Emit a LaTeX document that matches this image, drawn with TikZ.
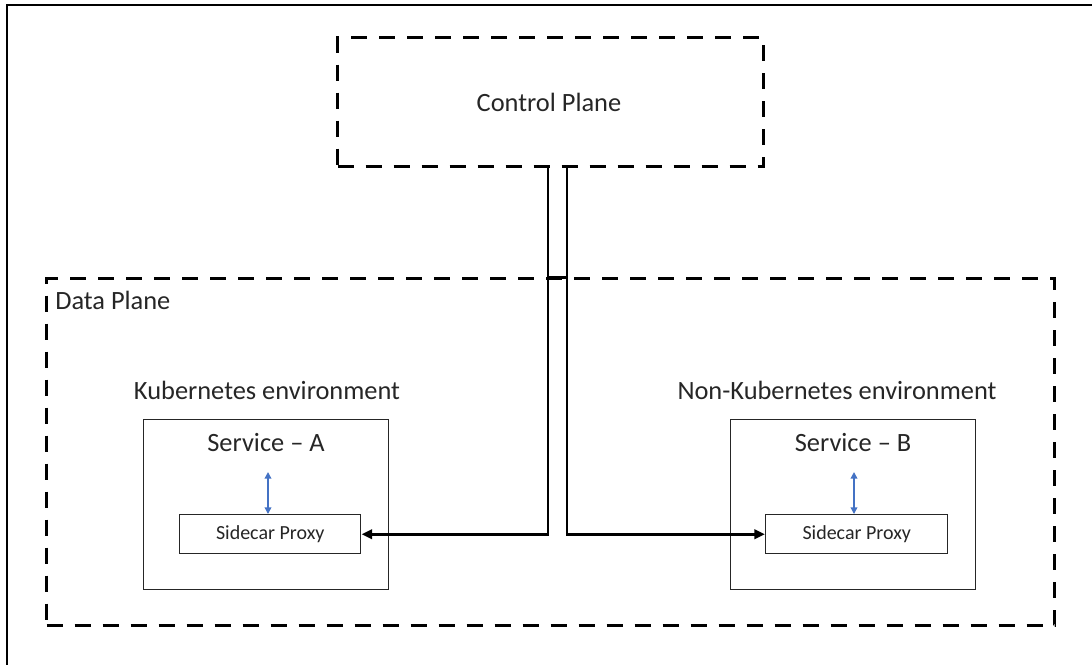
\documentclass[tikz,border=0pt]{standalone}
\usepackage{fontspec}
\setmainfont{Carlito}
\usetikzlibrary{arrows.meta}
\definecolor{txt}{HTML}{262626}
\definecolor{blu}{HTML}{4472C4}
\tikzset{
  planebox/.style={draw=black, line width=2.4pt, dash pattern=on 12pt off 9pt},
  svcbox/.style={draw=black!85, line width=1.1pt},
  conn/.style={draw=black, line width=2.2pt},
  bigtxt/.style={text=txt, font=\fontsize{19.8}{22}\selectfont, inner sep=0pt},
  smalltxt/.style={text=txt, font=\fontsize{15}{18}\selectfont, inner sep=0pt},
  bluarrow/.style={draw=blu, line width=1.1pt, {Triangle[length=5pt,width=5pt]}-{Triangle[length=5pt,width=5pt]}},
  tip/.style={-{Triangle[length=8pt,width=7pt]}}
}
\begin{document}
\begin{tikzpicture}[x=0.75pt,y=-0.75pt]
\useasboundingbox (0,0) rectangle (1092,665);
% outer frame (top and left only)
\draw[line width=2.2pt] (1092,5) -- (7,5) -- (7,665);
% control plane
\node[planebox, minimum width=426*0.75pt, minimum height=129*0.75pt, anchor=north west] (cp) at (336,36) {};
\node[bigtxt] (cptext) at (549,102) {Control Plane};
% data plane
\node[planebox, minimum width=1008*0.75pt, minimum height=347*0.75pt, anchor=north west] (dp) at (45,277) {};
\node[bigtxt, anchor=west] (dptext) at (55,300) {Data Plane};
% environments
\node[bigtxt] (kenv) at (267,390) {Kubernetes environment};
\node[bigtxt] (nkenv) at (837,390) {Non-Kubernetes environment};
% service boxes
\node[svcbox, minimum width=245*0.75pt, minimum height=170*0.75pt, anchor=north west] (sa) at (143,419) {};
\node[svcbox, minimum width=245*0.75pt, minimum height=170*0.75pt, anchor=north west] (sb) at (730,419) {};
\node[bigtxt] (satext) at (266,442) {Service -- A};
\node[bigtxt] (sbtext) at (853,442) {Service -- B};
% sidecars
\node[svcbox, minimum width=181*0.75pt, minimum height=39*0.75pt, anchor=north west] (pa) at (179,514) {};
\node[smalltxt] (patext) at (pa.center) {Sidecar Proxy};
\node[svcbox, minimum width=182*0.75pt, minimum height=39*0.75pt, anchor=north west] (pb) at (765,514) {};
\node[smalltxt] (pbtext) at (pb.center) {Sidecar Proxy};
% blue arrows
\coordinate (ba1) at (268,472);
\coordinate (bb1) at (854,472);
\draw[bluarrow] (ba1) -- (pa.north -| ba1);
\draw[bluarrow] (bb1) -- (pb.north -| bb1);
% connectors
\coordinate (la) at (548,165);
\coordinate (lb) at (567,165);
\draw[conn, tip] (la) |- (pa.east);
\draw[conn, tip] (lb) |- (pb.west);
\draw[line width=2pt] (548,277.5) -- (567,277.5);
\end{tikzpicture}
\end{document}
